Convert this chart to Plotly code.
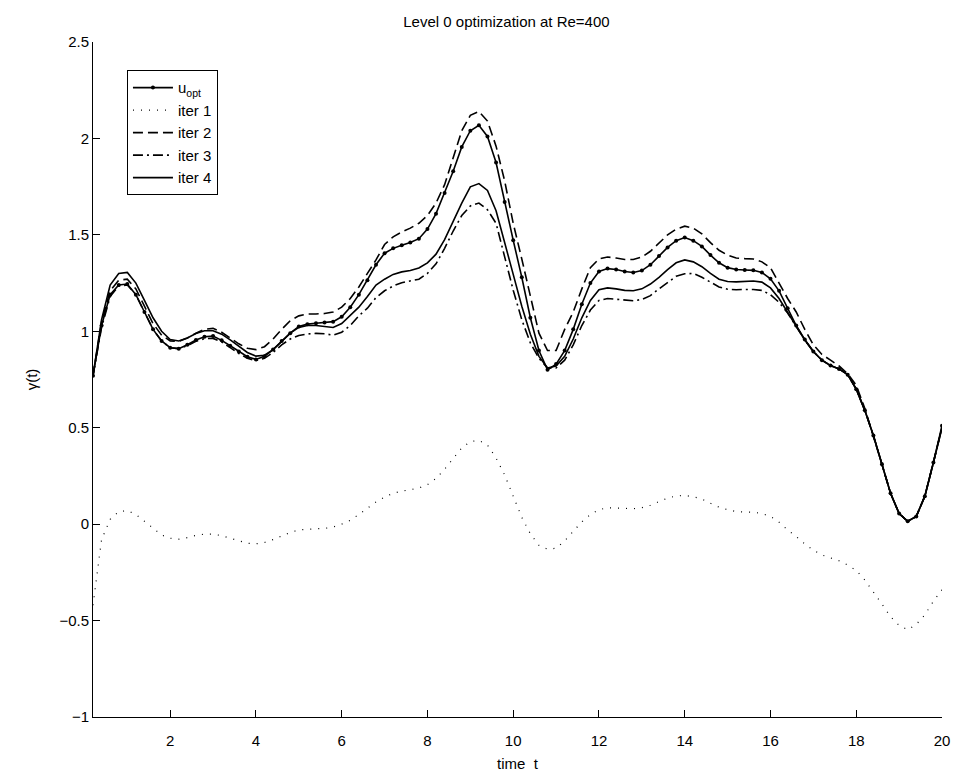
import plotly.graph_objects as go

# time grid: 0.2, 0.4, ..., 20.0
t = [round(0.2 * k, 1) for k in range(1, 101)]

u_opt = [
    0.77, 1.03, 1.19, 1.24, 1.245, 1.19, 1.10, 1.01, 0.95, 0.915,
    0.91, 0.93, 0.955, 0.972, 0.975, 0.953, 0.925, 0.895, 0.868, 0.854,
    0.870, 0.905, 0.95, 0.99, 1.025, 1.037, 1.042, 1.046, 1.05, 1.075,
    1.125, 1.19, 1.265, 1.345, 1.405, 1.43, 1.446, 1.46, 1.48, 1.53,
    1.61, 1.717, 1.83, 1.956, 2.04, 2.068, 2.01, 1.875, 1.67, 1.472,
    1.28, 1.07, 0.90, 0.80, 0.83, 0.90, 1.01, 1.14, 1.25, 1.31,
    1.325, 1.32, 1.31, 1.305, 1.315, 1.345, 1.39, 1.435, 1.47, 1.486,
    1.47, 1.44, 1.395, 1.355, 1.33, 1.32, 1.318, 1.316, 1.305, 1.272,
    1.21, 1.12, 1.03, 0.957, 0.895, 0.85, 0.822, 0.805, 0.775, 0.70,
    0.59, 0.46, 0.31, 0.16, 0.055, 0.015, 0.04, 0.145, 0.32, 0.51,
]

iter1 = [
    -0.42, -0.08, 0.025, 0.065, 0.07, 0.05, 0.015, -0.022, -0.056, -0.073,
    -0.078, -0.07, -0.058, -0.052, -0.052, -0.06, -0.072, -0.088, -0.099, -0.102,
    -0.095, -0.08, -0.062, -0.043, -0.03, -0.026, -0.024, -0.022, -0.015, 0.0,
    0.02, 0.05, 0.082, 0.115, 0.14, 0.16, 0.171, 0.178, 0.187, 0.205,
    0.237, 0.285, 0.34, 0.395, 0.428, 0.435, 0.41, 0.343, 0.255, 0.142,
    0.035, -0.05, -0.11, -0.13, -0.125, -0.087, -0.035, 0.012, 0.05, 0.075,
    0.085, 0.084, 0.082, 0.08, 0.085, 0.098, 0.117, 0.135, 0.146, 0.149,
    0.142, 0.13, 0.108, 0.088, 0.075, 0.065, 0.063, 0.062, 0.055, 0.04,
    0.01, -0.03, -0.064, -0.103, -0.135, -0.16, -0.175, -0.19, -0.212, -0.24,
    -0.29, -0.35, -0.415, -0.48, -0.525, -0.547, -0.52, -0.47, -0.40, -0.34,
]

iter2 = [
    0.77, 1.05, 1.21, 1.265, 1.27, 1.22, 1.13, 1.04, 0.98, 0.95,
    0.948, 0.965, 0.99, 1.01, 1.015, 0.995, 0.965, 0.935, 0.912, 0.905,
    0.92, 0.96, 1.01, 1.055, 1.08, 1.09, 1.09, 1.092, 1.10, 1.125,
    1.17, 1.23, 1.30, 1.37, 1.45, 1.49, 1.515, 1.535, 1.56, 1.60,
    1.665, 1.76, 1.90, 2.04, 2.12, 2.14, 2.09, 1.96, 1.78, 1.56,
    1.375, 1.18, 0.99, 0.90, 0.90, 1.01, 1.10, 1.22, 1.33, 1.375,
    1.385, 1.38, 1.372, 1.372, 1.385, 1.415, 1.46, 1.50, 1.53, 1.545,
    1.535, 1.505, 1.46, 1.42, 1.395, 1.38, 1.377, 1.375, 1.36, 1.33,
    1.25, 1.17, 1.10, 1.01, 0.93, 0.88, 0.85, 0.82, 0.78, 0.72,
    0.60, 0.46, 0.31, 0.16, 0.055, 0.015, 0.04, 0.145, 0.32, 0.50,
]

iter3 = [
    0.77, 1.02, 1.18, 1.235, 1.24, 1.19, 1.10, 1.01, 0.95, 0.915,
    0.91, 0.925, 0.948, 0.962, 0.963, 0.945, 0.915, 0.885, 0.86, 0.848,
    0.86, 0.89, 0.93, 0.96, 0.978, 0.986, 0.989, 0.987, 0.98, 0.995,
    1.03, 1.08, 1.12, 1.175, 1.21, 1.235, 1.252, 1.26, 1.27, 1.30,
    1.35, 1.43, 1.52, 1.60, 1.65, 1.665, 1.63, 1.56, 1.39, 1.213,
    1.06, 0.94, 0.86, 0.81, 0.81, 0.85, 0.93, 1.03, 1.11, 1.16,
    1.17, 1.165, 1.16, 1.158, 1.165, 1.185, 1.22, 1.255, 1.285, 1.298,
    1.30, 1.28, 1.255, 1.23, 1.218, 1.215, 1.217, 1.217, 1.212, 1.19,
    1.15, 1.095, 1.025, 0.955, 0.895, 0.85, 0.822, 0.805, 0.775, 0.70,
    0.59, 0.46, 0.31, 0.16, 0.055, 0.015, 0.04, 0.145, 0.32, 0.50,
]

iter4 = [
    0.77, 1.06, 1.24, 1.30, 1.305, 1.25, 1.16, 1.07, 1.0, 0.957,
    0.95, 0.965, 0.988, 1.003, 1.003, 0.985, 0.955, 0.92, 0.89, 0.871,
    0.876, 0.905, 0.945, 0.99, 1.02, 1.03, 1.03, 1.025, 1.02, 1.04,
    1.08, 1.125, 1.18, 1.24, 1.27, 1.295, 1.308, 1.315, 1.328, 1.355,
    1.40, 1.475, 1.57, 1.665, 1.749, 1.766, 1.73, 1.625, 1.46, 1.30,
    1.13, 0.985, 0.87, 0.81, 0.82, 0.87, 0.96, 1.07, 1.16, 1.215,
    1.225, 1.22, 1.212, 1.21, 1.22, 1.245, 1.28, 1.32, 1.355, 1.37,
    1.36, 1.335, 1.30, 1.27, 1.258, 1.256, 1.26, 1.261, 1.255, 1.225,
    1.17, 1.10, 1.025, 0.955, 0.895, 0.85, 0.822, 0.805, 0.775, 0.70,
    0.59, 0.46, 0.31, 0.16, 0.055, 0.015, 0.04, 0.145, 0.32, 0.50,
]

x_ticks = [2, 4, 6, 8, 10, 12, 14, 16, 18, 20]
y_ticks = [-1, -0.5, 0, 0.5, 1, 1.5, 2, 2.5]
y_ticktext = ["\u22121", "\u22120.5", "0", "0.5", "1", "1.5", "2", "2.5"]

FONT = "Liberation Sans, Arial, Helvetica, sans-serif"
BLACK = "#000000"

fig = go.Figure()
fig.add_trace(go.Scatter(
    x=t, y=u_opt, name="u<sub>opt</sub>", mode="lines+markers",
    line=dict(color=BLACK, width=1.6), marker=dict(color=BLACK, size=4)))
fig.add_trace(go.Scatter(
    x=t, y=iter1, name="iter 1", mode="lines",
    line=dict(color=BLACK, width=1.2, dash="1px,7px")))
fig.add_trace(go.Scatter(
    x=t, y=iter2, name="iter 2", mode="lines",
    line=dict(color=BLACK, width=1.6, dash="10px,5px")))
fig.add_trace(go.Scatter(
    x=t, y=iter3, name="iter 3", mode="lines",
    line=dict(color=BLACK, width=1.6, dash="10px,4px,2px,4px")))
fig.add_trace(go.Scatter(
    x=t, y=iter4, name="iter 4", mode="lines",
    line=dict(color=BLACK, width=1.6)))

axis_common = dict(
    showgrid=False, zeroline=False, showline=True, linecolor=BLACK,
    linewidth=1, ticks="inside", ticklen=7, tickcolor=BLACK, tickwidth=1,
    tickfont=dict(family=FONT, size=15, color=BLACK),
)

fig.update_layout(
    width=962, height=782,
    margin=dict(l=93, r=14, t=42, b=65),
    paper_bgcolor="white", plot_bgcolor="white",
    font=dict(family=FONT, size=15, color=BLACK),
    title=dict(text="Level 0 optimization at Re=400", x=0.487, xref="paper",
               xanchor="center", y=1, yref="paper", yanchor="bottom",
               pad=dict(b=15),
               font=dict(family=FONT, size=15, color=BLACK)),
    xaxis=dict(range=[0.2, 20], tickvals=x_ticks, ticklabelstandoff=10,
               title=dict(text="time  t", standoff=10,
                          font=dict(family=FONT, size=15, color=BLACK)),
               **axis_common),
    yaxis=dict(range=[-1, 2.5], tickvals=y_ticks, ticktext=y_ticktext,
               title=dict(text="\u03b3(t)", standoff=18,
                          font=dict(family=FONT, size=15, color=BLACK)),
               **axis_common),
    legend=dict(x=0.04, y=0.958, xanchor="left", yanchor="top",
                bordercolor=BLACK, borderwidth=1, bgcolor="white",
                font=dict(family=FONT, size=15, color=BLACK),
                itemwidth=40, tracegroupgap=0),
    showlegend=True,
)

fig.write_html("out.html")
